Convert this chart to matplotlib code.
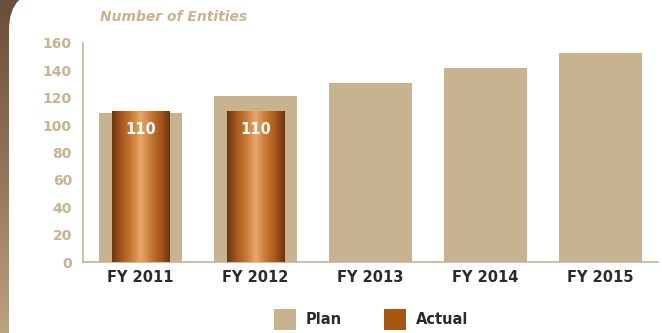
import matplotlib
matplotlib.use('Agg')
import matplotlib.pyplot as plt
import numpy as np
from matplotlib.colors import LinearSegmentedColormap
from matplotlib.patches import FancyBboxPatch, Rectangle

plt.rcParams['font.family'] = ['DejaVu Sans']

# data
years = ['FY 2011', 'FY 2012', 'FY 2013', 'FY 2014', 'FY 2015']
plan = [109, 121, 131, 142, 153]
actual = [110, 110]
y_ticks = [0, 20, 40, 60, 80, 100, 120, 140, 160]

tan = '#c8b391'
dark_text = '#2b2b2b'
W, H = 662, 333

fig = plt.figure(figsize=(W / 100, H / 100), dpi=100)

# background: brown band on the left with rounded white panel
bg = fig.add_axes([0, 0, 1, 1])
bg.axis('off')
band = np.linspace(0, 1, 200).reshape(-1, 1)
band_cmap = LinearSegmentedColormap.from_list('band', ['#6a4e3b', '#8e7558', '#bba37f'])
bg.imshow(band, cmap=band_cmap, extent=[0, 60, H, 0], aspect='auto')
panel = FancyBboxPatch((9, -10), W + 50, H + 60,
                       boxstyle='round,pad=0,rounding_size=40',
                       fc='white', ec='none')
bg.add_patch(panel)
bg.set_xlim(0, W)
bg.set_ylim(H, 0)

ax = fig.add_axes([83 / W, 71 / H, 575 / W, 219 / H])
x = np.arange(len(years))
ax.bar(x, plan, width=0.72, color=tan, zorder=2)

# actual bars with a metallic gradient
grad = np.linspace(0, 1, 256).reshape(1, -1)
copper = LinearSegmentedColormap.from_list(
    'copper', ['#6a3510', '#a8581a', '#c97a35', '#e6a96b', '#c97a35', '#a8581a', '#6a3510'])
bw = 0.5
for i, v in enumerate(actual):
    im = ax.imshow(grad, cmap=copper, extent=[i - bw / 2, i + bw / 2, 0, v],
                   aspect='auto', zorder=3)
    clip = Rectangle((i - bw / 2, 0), bw, v, transform=ax.transData)
    im.set_clip_path(clip)
    ax.text(i, v - 7.5, str(v), ha='center', va='top', color='white',
            fontsize=10.5, fontweight='bold', zorder=4)

ax.set_xlim(-0.5, len(years) - 0.5)
ax.set_ylim(0, 160)
ax.set_yticks(y_ticks)
ax.set_xticks(x)
ax.set_xticklabels(years)
ax.tick_params(axis='y', length=0, pad=8, labelcolor=tan, labelsize=10)
ax.tick_params(axis='x', length=0, pad=6, labelcolor=dark_text, labelsize=10.5)
for lab in ax.get_yticklabels() + ax.get_xticklabels():
    lab.set_fontweight('bold')
for s in ['top', 'right']:
    ax.spines[s].set_visible(False)
for s in ['left', 'bottom']:
    ax.spines[s].set_color(tan)
    ax.spines[s].set_linewidth(1.2)
ax.set_facecolor('none')

fig.text(100 / W, 1 - 17 / H, 'Number of Entities', color=tan, fontsize=10,
         fontweight='bold', fontstyle='italic', va='center', ha='left')

# legend
bg.add_patch(Rectangle((274, 309), 22, 21, fc=tan, ec='none'))
bg.text(306, 320, 'Plan', va='center', ha='left', color=dark_text,
        fontsize=10.5, fontweight='bold')
bg.add_patch(Rectangle((384, 309), 22, 21, fc='#a9560f', ec='none'))
bg.text(416, 320, 'Actual', va='center', ha='left', color=dark_text,
        fontsize=10.5, fontweight='bold')

fig.savefig('out.png', dpi=100)
